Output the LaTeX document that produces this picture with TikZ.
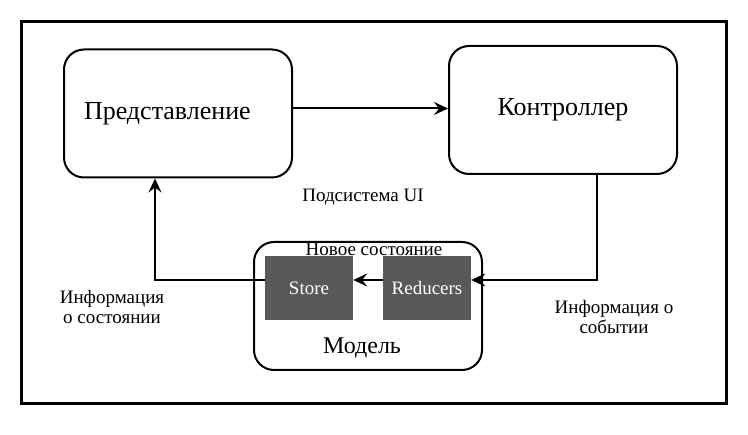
\documentclass[tikz,border=0pt]{standalone}
\usepackage{fontspec}
\setmainfont{Liberation Serif}
\usetikzlibrary{arrows.meta}
\usepackage{xcolor}
\definecolor{boxgray}{HTML}{595959}

\begin{document}
\begin{tikzpicture}[x=1pt, y=-1pt]
        % ================= 样式定义 =================
        \tikzset{
            % 圆角大框:白底黑边
            blockbox/.style={draw=black, line width=2pt, rounded corners=20pt, fill=white, inner sep=0pt, minimum width=228pt, minimum height=128pt},
            % 灰色实心小框,白字
            graybox/.style={fill=boxgray, text=white, inner sep=0pt, minimum width=88pt, minimum height=64pt, font=\fontsize{19}{22}\selectfont},
            % 普通说明文字
            note/.style={inner sep=0pt, font=\fontsize{19}{20}\selectfont, align=center},
            % 箭头连线
            flow/.style={line width=2pt, -{Stealth[length=14pt, width=13pt, inset=5pt]}}
        }

        \useasboundingbox (0,0) rectangle (748,435);

        % ================= 外框 =================
        \draw[line width=3pt] (21,22) rectangle (726,404);

        % ================= 上排:视图与控制器 =================
        \node[blockbox, font=\fontsize{26}{30}\selectfont, text width=188pt, align=left] (view) at (178,113.5) {Представление};
        \node[blockbox, font=\fontsize{26}{30}\selectfont] (ctrl) at (563,110) {Контроллер};

        \node[note] (ui) at (363,197) {Подсистема UI};

        % ================= 下方:模型及其内部 =================
        \node[blockbox] (model) at (368,306) {};
        \node[graybox] (store) at (309,288) {Store};
        \node[graybox] (reducers) at (427,288) {Reducers};
        \node[note] (newstate) at (374,249) {Новое состояние};
        \node[inner sep=0pt, font=\fontsize{24}{28}\selectfont] (modeltext) at (362,348) {Модель};

        % 两侧说明
        \node[note] (stateinfo) at (112,307) {Информация\\о состоянии};
        \node[note] (eventinfo) at (614,317) {Информация о\\событии};

        % ================= 连线 =================
        \draw[flow] ([yshift=5pt]view.east) -- ([yshift=5pt]view.east -| ctrl.west);
        \draw[flow] ([xshift=34pt]ctrl.south) |- ([yshift=8pt]reducers.east);
        \draw[flow] ([yshift=8pt]reducers.west) -- ([yshift=8pt]store.east);
        \draw[flow] ([yshift=8pt]store.west) -| ([xshift=-23pt]view.south);

    \end{tikzpicture}
\end{document}
